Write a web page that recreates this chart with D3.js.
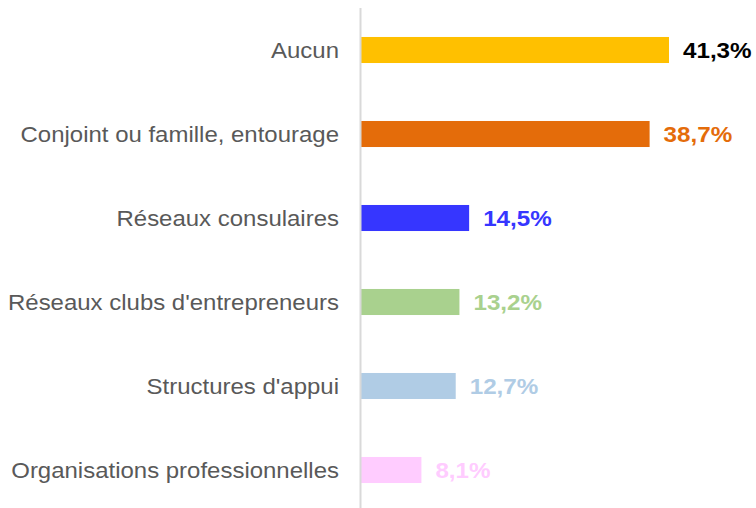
<!DOCTYPE html>
<html>
<head>
<meta charset="utf-8">
<script src="https://cdn.jsdelivr.net/npm/d3@7"></script>
<style>
  body { margin: 0; background: #fff; }
  svg { display: block; font-family: "Liberation Sans", Arial, sans-serif; }
</style>
</head>
<body>
<svg id="chart"></svg>
<script>
var svgWidth = 756;
var svgHeight = 508;

// data
var categories = [
  "Aucun",
  "Conjoint ou famille, entourage",
  "Réseaux consulaires",
  "Réseaux clubs d'entrepreneurs",
  "Structures d'appui",
  "Organisations professionnelles"
];
var values = [41.3, 38.7, 14.5, 13.2, 12.7, 8.1];
var barColors = ["#FFC000", "#E46C0A", "#3636FF", "#A9D18E", "#B0CCE5", "#FFCCFF"];
var labelColors = ["#000000", "#E46C0A", "#3636FF", "#A9D18E", "#B0CCE5", "#FFCCFF"];

var x0 = 361;
var x = d3.scaleLinear().domain([0, 41.3]).range([x0, 669]);
var y = d3.scaleBand().domain(categories).range([8, 512]).paddingInner(0.69).paddingOuter(0.345);

var svg = d3.select("#chart")
  .attr("width", svgWidth)
  .attr("height", svgHeight);

var rows = categories.map((c, i) => ({ name: c, value: values[i], i: i }));

// bars
svg.append("g")
  .selectAll("rect")
  .data(rows)
  .join("rect")
    .attr("x", x(0))
    .attr("y", d => y(d.name))
    .attr("width", d => x(d.value) - x(0))
    .attr("height", y.bandwidth())
    .attr("fill", d => barColors[d.i]);

// vertical axis line
svg.append("line")
  .attr("x1", x0 - 0.5).attr("x2", x0 - 0.5)
  .attr("y1", 8).attr("y2", svgHeight)
  .attr("stroke", "#d9d9d9")
  .attr("stroke-width", 2);

// category labels
svg.append("g")
  .selectAll("text")
  .data(rows)
  .join("text")
    .attr("transform", d => `translate(339,${y(d.name) + y.bandwidth() / 2}) scale(1.09,1)`)
    .attr("dy", "0.35em")
    .attr("text-anchor", "end")
    .attr("fill", "#595959")
    .style("font-size", "22px")
    .text(d => d.name);

// value labels
var fmt = v => d3.format(".1f")(v).replace(".", ",") + "%";
svg.append("g")
  .selectAll("text")
  .data(rows)
  .join("text")
    .attr("transform", d => `translate(${x(d.value) + 14},${y(d.name) + y.bandwidth() / 2}) scale(1.1,1)`)
    .attr("dy", "0.35em")
    .attr("fill", d => labelColors[d.i])
    .style("font-size", "22px")
    .style("font-weight", "bold")
    .text(d => fmt(d.value));
</script>
</body>
</html>
